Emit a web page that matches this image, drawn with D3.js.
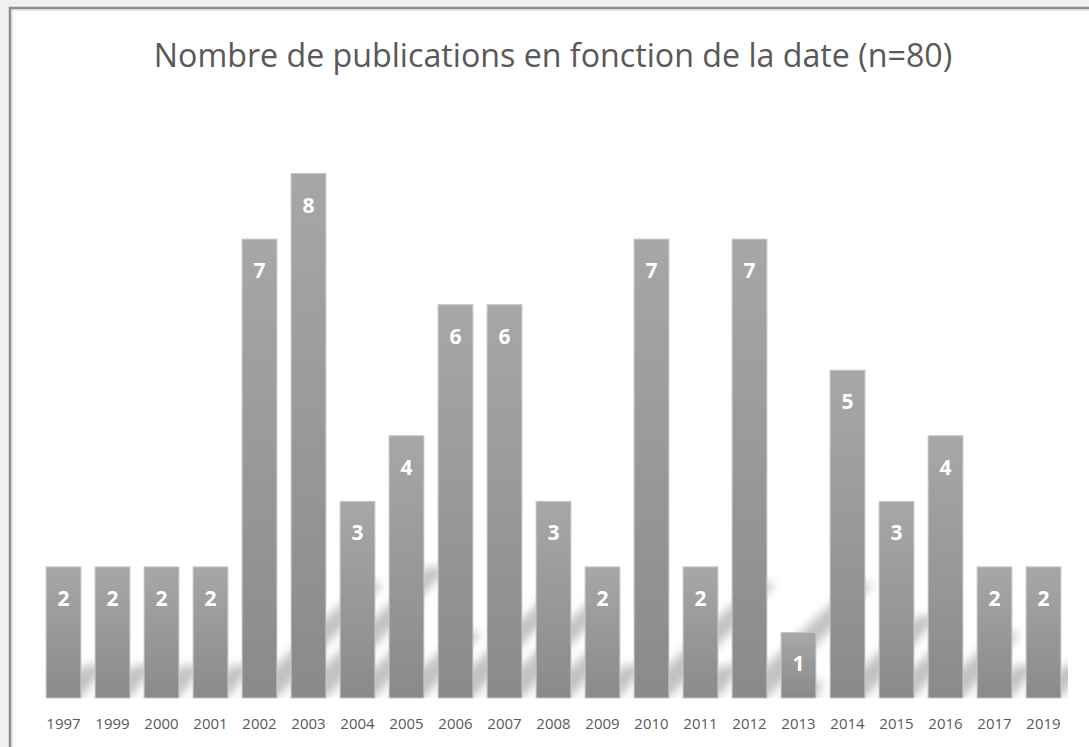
<!DOCTYPE html>
<html>
<head>
<meta charset="utf-8">
<script src="https://cdn.jsdelivr.net/npm/d3@7"></script>
<style>
  body { margin: 0; background: #f0f0f0; overflow: hidden; }
  svg { display: block; }
</style>
</head>
<body>
<div id="chart"></div>
<script>
// chart data
var years = ["1997", "1999", "2000", "2001", "2002", "2003", "2004", "2005", "2006", "2007", "2008",
  "2009", "2010", "2011", "2012", "2013", "2014", "2015", "2016", "2017", "2019"];
var counts = [2, 2, 2, 2, 7, 8, 3, 4, 6, 6, 3, 2, 7, 2, 7, 1, 5, 3, 4, 2, 2];
var titleText = "Nombre de publications en fonction de la date (n=80)";

var width = 1089;
var height = 747;
var baseY = 698;

var svg = d3.select("#chart")
  .append("svg")
  .attr("width", width)
  .attr("height", height);

// frame (right and bottom edges fall outside the picture)
svg.append("rect")
  .attr("x", 10).attr("y", 8)
  .attr("width", width + 40).attr("height", height + 40)
  .attr("fill", "#fff")
  .attr("stroke", "#8c8c8c")
  .attr("stroke-width", 2.5);
svg.append("rect")
  .attr("x", 12).attr("y", 10)
  .attr("width", width + 40).attr("height", height + 40)
  .attr("fill", "none")
  .attr("stroke", "#d4d4d4")
  .attr("stroke-width", 1);

// scales
var x = d3.scaleBand()
  .domain(years)
  .range([39, 1068])
  .paddingInner(0.29)
  .paddingOuter(0.145);

var y = d3.scaleLinear()
  .domain([0, 9])
  .range([baseY, 108]);

var defs = svg.append("defs");

var grad = defs.append("linearGradient")
  .attr("id", "barGrad")
  .attr("x1", "0%").attr("y1", "0%")
  .attr("x2", "0%").attr("y2", "100%");
grad.append("stop").attr("offset", "0%").attr("stop-color", "#a7a7a7");
grad.append("stop").attr("offset", "100%").attr("stop-color", "#8a8a8a");

var blur = defs.append("filter")
  .attr("id", "shadowBlur")
  .attr("x", "-50%").attr("y", "-50%")
  .attr("width", "200%").attr("height", "200%");
blur.append("feGaussianBlur").attr("stdDeviation", 5);

defs.append("clipPath")
  .attr("id", "plotClip")
  .append("rect")
  .attr("x", 39).attr("y", 100)
  .attr("width", 1068 - 39).attr("height", baseY - 100);

// title
svg.append("text")
  .attr("x", 553)
  .attr("y", 67)
  .attr("text-anchor", "middle")
  .style("font-family", "'Open Sans', sans-serif")
  .style("font-size", "32.2px")
  .style("fill", "#595959")
  .text(titleText);

// perspective shadows of the bars
var shadowGroup = svg.append("g")
  .attr("clip-path", "url(#plotClip)");

shadowGroup.selectAll("polygon")
  .data(counts)
  .enter()
  .append("polygon")
  .attr("points", function (d, i) {
    var x0 = x(years[i]);
    var x1 = x0 + x.bandwidth();
    var h = baseY - y(d);
    var dy = h * 0.25;
    var dx = dy * 1.0;
    var topW = x.bandwidth() * 0.6;
    return [[x0, baseY], [x1, baseY], [x0 + dx + 6 + topW, baseY - dy], [x0 + dx + 6, baseY - dy]]
      .map(function (p) { return p.join(","); }).join(" ");
  })
  .attr("fill", "#000")
  .attr("fill-opacity", 0.24)
  .attr("filter", "url(#shadowBlur)");

// bars
svg.append("g")
  .selectAll("rect")
  .data(counts)
  .enter()
  .append("rect")
  .attr("x", function (d, i) { return x(years[i]); })
  .attr("y", function (d) { return y(d); })
  .attr("width", x.bandwidth())
  .attr("height", function (d) { return baseY - y(d); })
  .attr("fill", "url(#barGrad)")
  .attr("stroke", "#c6c6c6")
  .attr("stroke-width", 1);

// value labels
svg.append("g")
  .selectAll("text")
  .data(counts)
  .enter()
  .append("text")
  .attr("x", function (d, i) { return x(years[i]) + x.bandwidth() / 2; })
  .attr("y", function (d) { return y(d) + 39; })
  .attr("text-anchor", "middle")
  .style("font-family", "'Open Sans', sans-serif")
  .style("font-weight", "bold")
  .style("font-size", "21px")
  .style("fill", "#fff")
  .text(function (d) { return d; });

// x axis labels
var xAxis = d3.axisBottom(x).tickSize(0).tickPadding(0);
var axisG = svg.append("g")
  .attr("transform", "translate(0," + baseY + ")")
  .call(xAxis);
axisG.select(".domain").remove();
axisG.selectAll("text")
  .attr("dy", null)
  .attr("y", 31)
  .style("font-family", "'Open Sans', sans-serif")
  .style("font-size", "15px")
  .style("fill", "#595959");
</script>
</body>
</html>
